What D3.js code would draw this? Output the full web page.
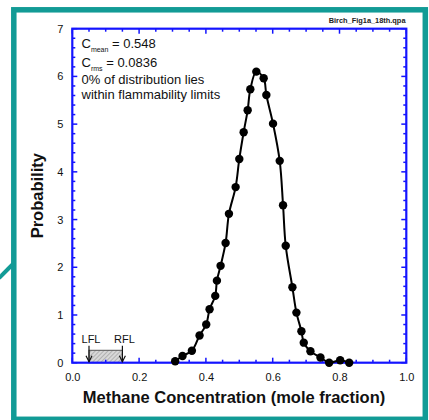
<!DOCTYPE html>
<html><head><meta charset="utf-8">
<script src="https://cdn.jsdelivr.net/npm/d3@7"></script>
<style>body{margin:0;background:#fff}svg{display:block;font-family:"Liberation Sans",Arial,sans-serif}</style>
</head><body>
<script>
const concentration = [0.308,0.330,0.358,0.381,0.401,0.411,0.428,0.433,0.444,0.459,0.469,0.489,0.500,0.513,0.525,0.533,0.551,0.573,0.581,0.601,0.621,0.631,0.639,0.659,0.671,0.686,0.693,0.713,0.743,0.769,0.802,0.829];
const probability   = [0.03,0.14,0.25,0.57,0.80,1.12,1.40,1.72,2.03,2.51,3.12,3.68,4.27,4.83,5.29,5.73,6.10,5.96,5.61,5.01,4.23,3.30,2.45,1.58,1.05,0.66,0.42,0.24,0.11,0.00,0.05,0.00];
const xTicks = [0,0.2,0.4,0.6,0.8,1.0];
const yTicks = [0,1,2,3,4,5,6,7];
const limits = [{name:"LFL", x:0.05},{name:"RFL", x:0.15}];
const limitBandTop = 0.26;

const W=429,H=420;
const svg=d3.select("body").append("svg").attr("width",W).attr("height",H);
const teal="#129b96", blue="#1414ff";

// outer frame
svg.append("rect").attr("x",13.8).attr("y",9.8).attr("width",411.5).attr("height",409.5)
  .attr("fill","none").attr("stroke",teal).attr("stroke-width",5.5);
svg.append("line").attr("x1",-1).attr("y1",278).attr("x2",13).attr("y2",264)
  .attr("stroke",teal).attr("stroke-width",4);

const x=d3.scaleLinear().domain([0,1]).range([72.3,406.3]);
const y=d3.scaleLinear().domain([0,7]).range([362.7,28.7]);

// hatch pattern
const defs=svg.append("defs");
const pat=defs.append("pattern").attr("id","hatch").attr("patternUnits","userSpaceOnUse")
  .attr("width",3).attr("height",3).attr("patternTransform","rotate(45)");
pat.append("rect").attr("width",3).attr("height",3).attr("fill","#d8d8d8");
pat.append("line").attr("x1",0).attr("y1",0).attr("x2",0).attr("y2",3).attr("stroke","#8a8a8a").attr("stroke-width",1);

// flammability band
svg.append("rect").attr("x",x(limits[0].x)).attr("y",y(limitBandTop))
  .attr("width",x(limits[1].x)-x(limits[0].x)).attr("height",y(0)-y(limitBandTop))
  .attr("fill","url(#hatch)").attr("stroke","#555").attr("stroke-width",1);

// ticks (inward) on all sides
const g=svg.append("g");
const xMinor=d3.range(0,1.0001,0.05), yMinor=d3.range(0,7.0001,0.2);
function isMajor(v,step){return Math.abs(v/step-Math.round(v/step))<1e-6;}
xMinor.forEach(v=>{
  const L=isMajor(v,0.2)?5:3;
  g.append("line").attr("x1",x(v)).attr("x2",x(v)).attr("y1",y(0)).attr("y2",y(0)-L).attr("stroke",blue).attr("stroke-width",1.5);
  g.append("line").attr("x1",x(v)).attr("x2",x(v)).attr("y1",y(7)).attr("y2",y(7)+L).attr("stroke",blue).attr("stroke-width",1.5);
});
yMinor.forEach(v=>{
  const L=isMajor(v,1)?5:3;
  g.append("line").attr("y1",y(v)).attr("y2",y(v)).attr("x1",x(0)).attr("x2",x(0)+L).attr("stroke",blue).attr("stroke-width",1.5);
  g.append("line").attr("y1",y(v)).attr("y2",y(v)).attr("x1",x(1)).attr("x2",x(1)-L).attr("stroke",blue).attr("stroke-width",1.5);
});
svg.append("rect").attr("x",x(0)).attr("y",y(7)).attr("width",x(1)-x(0)).attr("height",y(0)-y(7))
  .attr("fill","none").attr("stroke",blue).attr("stroke-width",2.2);

// tick labels via axes
const xAxis=svg.append("g").attr("transform",`translate(0,${y(0)})`)
  .call(d3.axisBottom(x).tickValues(xTicks).tickFormat(d3.format(".1f")).tickSize(0).tickPadding(11));
const yAxis=svg.append("g").attr("transform",`translate(${x(0)},0)`)
  .call(d3.axisLeft(y).tickValues(yTicks).tickFormat(d3.format("d")).tickSize(0).tickPadding(9));
[xAxis,yAxis].forEach(a=>{a.select(".domain").remove();a.selectAll("text").attr("font-size",11).attr("fill","#111").attr("font-family","Liberation Sans, Arial, sans-serif");});

// limit arrows
limits.forEach(l=>{
  const px=x(l.x);
  svg.append("line").attr("x1",px).attr("x2",px).attr("y1",y(0)-17).attr("y2",y(0)-1).attr("stroke","#111").attr("stroke-width",1.2);
  svg.append("path").attr("d",`M${px-3},${y(0)-7} L${px},${y(0)-1} L${px+3},${y(0)-7}`).attr("fill","none").attr("stroke","#111").attr("stroke-width",1.2);
  svg.append("text").attr("x",px+2).attr("y",y(0)-19.5).attr("text-anchor","middle").attr("font-size",11).attr("fill","#111").text(l.name);
});

// curve and points
const pts=concentration.map((c,i)=>[c,probability[i]]);
svg.append("path").datum(pts).attr("fill","none").attr("stroke","#000").attr("stroke-width",2)
  .attr("d",d3.line().x(d=>x(d[0])).y(d=>y(d[1])).curve(d3.curveCatmullRom.alpha(0.5)));
svg.selectAll("circle.pt").data(pts).join("circle").attr("class","pt")
  .attr("cx",d=>x(d[0])).attr("cy",d=>y(d[1])).attr("r",4.2).attr("fill","#000");

// annotations
const ann=[{main:"C",sub:"mean",rest:" = 0.548",y:48},{main:"C",sub:"rms",rest:" = 0.0836",y:66.5}];
ann.forEach(a=>{
  const t=svg.append("text").attr("x",81.5).attr("y",a.y).attr("font-size",13).attr("fill","#111");
  t.append("tspan").text(a.main);
  t.append("tspan").attr("font-size",7).attr("dy",4).text(a.sub);
  t.append("tspan").attr("dy",-4).text(a.rest);
});
svg.append("text").attr("x",81.5).attr("y",84).attr("font-size",13).attr("fill","#111").text("0% of distribution lies");
svg.append("text").attr("x",81.5).attr("y",98.5).attr("font-size",13).attr("fill","#111").text("within flammability limits");

// titles
svg.append("text").attr("x",405.5).attr("y",23).attr("text-anchor","end").attr("font-size",7.4).attr("font-weight","bold").attr("fill","#222").text("Birch_Fig1a_18th.qpa");
svg.append("text").attr("x",234).attr("y",403).attr("text-anchor","middle").attr("font-size",16.5).attr("font-weight","bold").attr("fill","#111").text("Methane Concentration (mole fraction)");
svg.append("text").attr("transform",`translate(43,${(y(0)+y(7))/2}) rotate(-90)`).attr("text-anchor","middle").attr("font-size",16.5).attr("font-weight","bold").attr("fill","#111").text("Probability");
</script>
</body></html>
